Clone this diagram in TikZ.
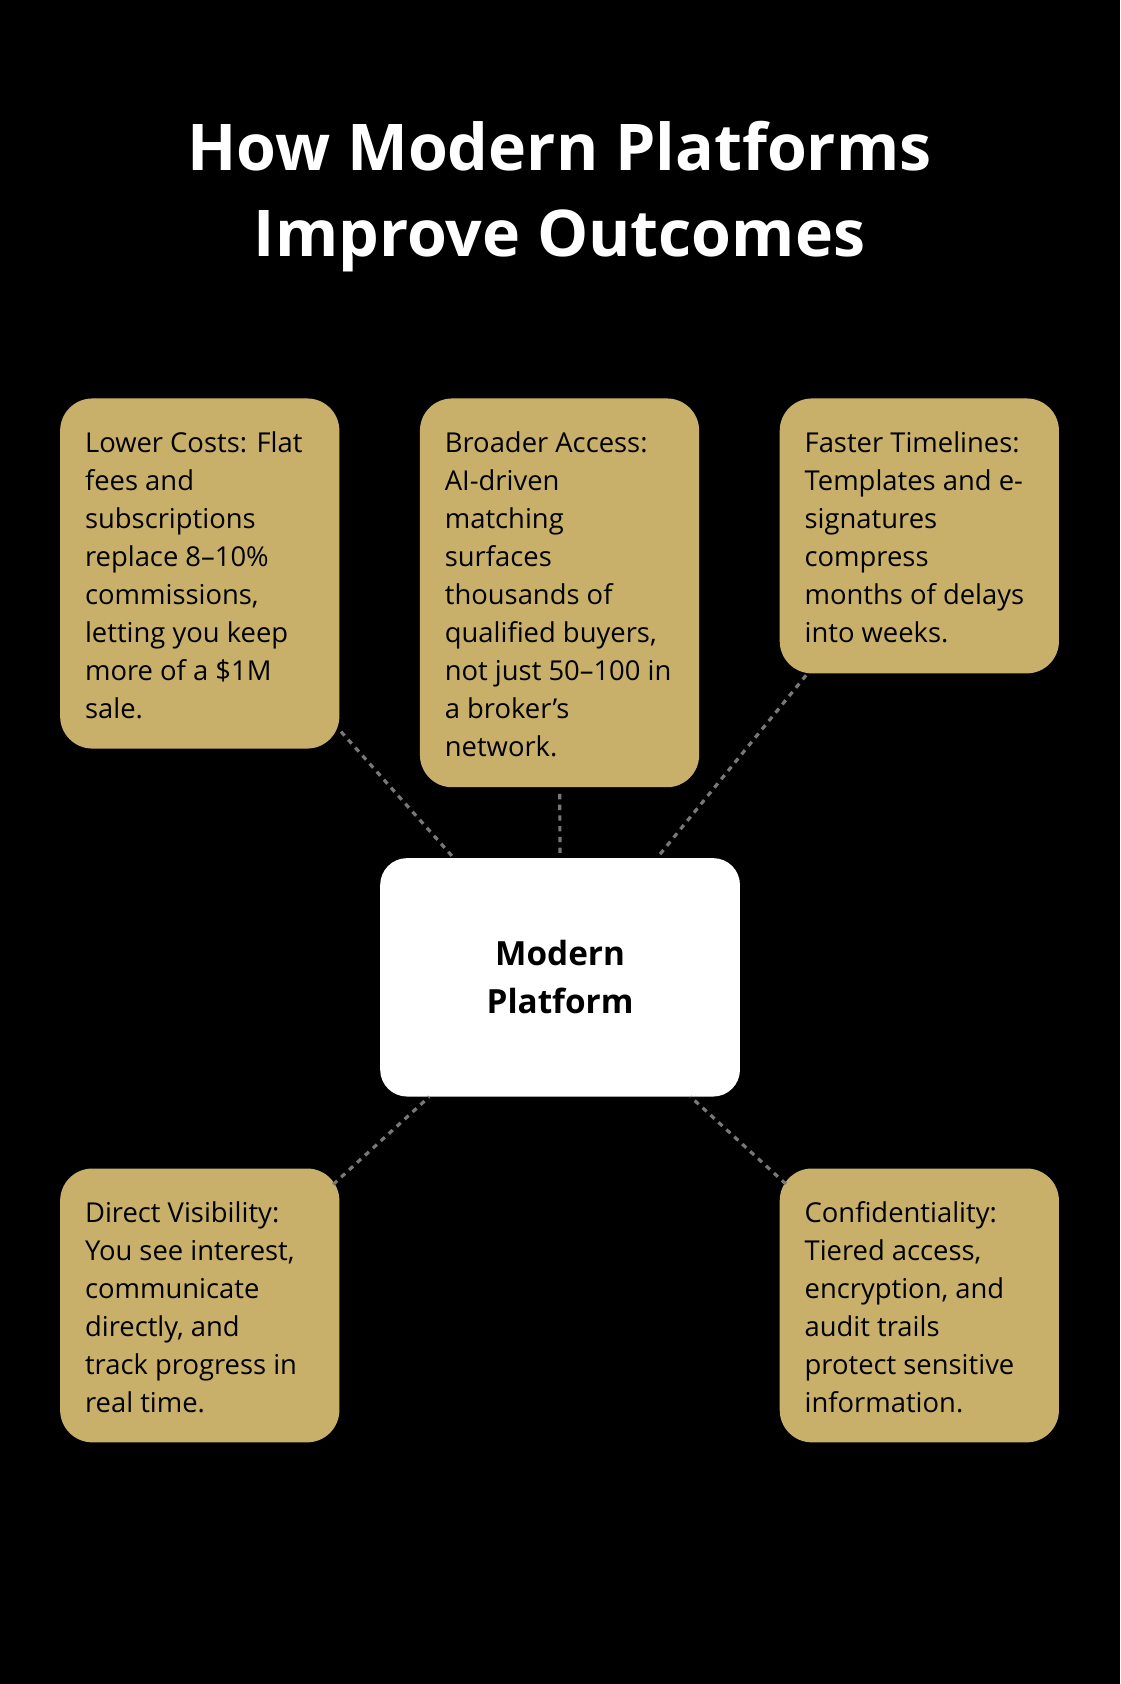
\documentclass[tikz,border=0pt]{standalone}
\usepackage{fontspec}
\setmainfont{Open Sans}
\begin{document}
\begin{tikzpicture}[x=1pt,y=-1pt,
  card/.style={draw=none,fill={rgb,255:red,200;green,176;blue,107},rounded corners=30pt,inner sep=0pt},
  cardtext/.style={align=left,font=\fontsize{25.5}{35.3}\selectfont,anchor=north west,inner sep=0pt},
  link/.style={draw={rgb,255:red,120;green,120;blue,120},line width=3pt,dash pattern=on 5pt off 5pt}]
\fill[black] (0,0) rectangle (1043,1568);
\useasboundingbox (0,0) rectangle (1043,1568);
\node[white,font=\fontsize{60}{80}\selectfont\bfseries,align=center] (title) at (521,183) {How Modern Platforms\\Improve Outcomes};
\node[card,minimum width=260pt,minimum height=326pt] (b1) at (186,534) {};
\node[card,minimum width=260pt,minimum height=362pt] (b2) at (521,552) {};
\node[card,minimum width=260pt,minimum height=256pt] (b3) at (856,499) {};
\node[card,minimum width=260pt,minimum height=255pt] (b4) at (186,1215.5) {};
\node[card,minimum width=260pt,minimum height=255pt] (b5) at (856,1215.5) {};
\node[fill=white,rounded corners=25pt,minimum width=335pt,minimum height=222pt] (c) at (521.5,910) {};
\node[font=\fontsize{31}{45}\selectfont\bfseries,align=center] (ct) at (c) {Modern\\Platform};
\node[cardtext] (t1) at (79,402) {Lower Costs: Flat\\fees and\\subscriptions\\replace 8–10\%\\commissions,\\letting you keep\\more of a \$1M\\sale.};
\node[cardtext] (t2) at (414,402) {Broader Access:\\AI-driven\\matching\\surfaces\\thousands of\\qualified buyers,\\not just 50–100 in\\a broker's\\network.};
\node[cardtext] (t3) at (749,402) {Faster Timelines:\\Templates and e-\\signatures\\compress\\months of delays\\into weeks.};
\node[cardtext] (t4) at (79,1119) {Direct Visibility:\\You see interest,\\communicate\\directly, and\\track progress in\\real time.};
\node[cardtext] (t5) at (749,1119) {Confidentiality:\\Tiered access,\\encryption, and\\audit trails\\protect sensitive\\information.};
\draw[link,shorten <=2pt] (b1) -- (c);
\draw[link,shorten <=6pt,shorten >=4pt] (b2) -- (c);
\draw[link,shorten <=2pt] (b3) -- (c);
\draw[link,shorten <=-8pt] (b4) -- (c);
\draw[link,shorten <=-8pt] (b5) -- (c);
\end{tikzpicture}
\end{document}
